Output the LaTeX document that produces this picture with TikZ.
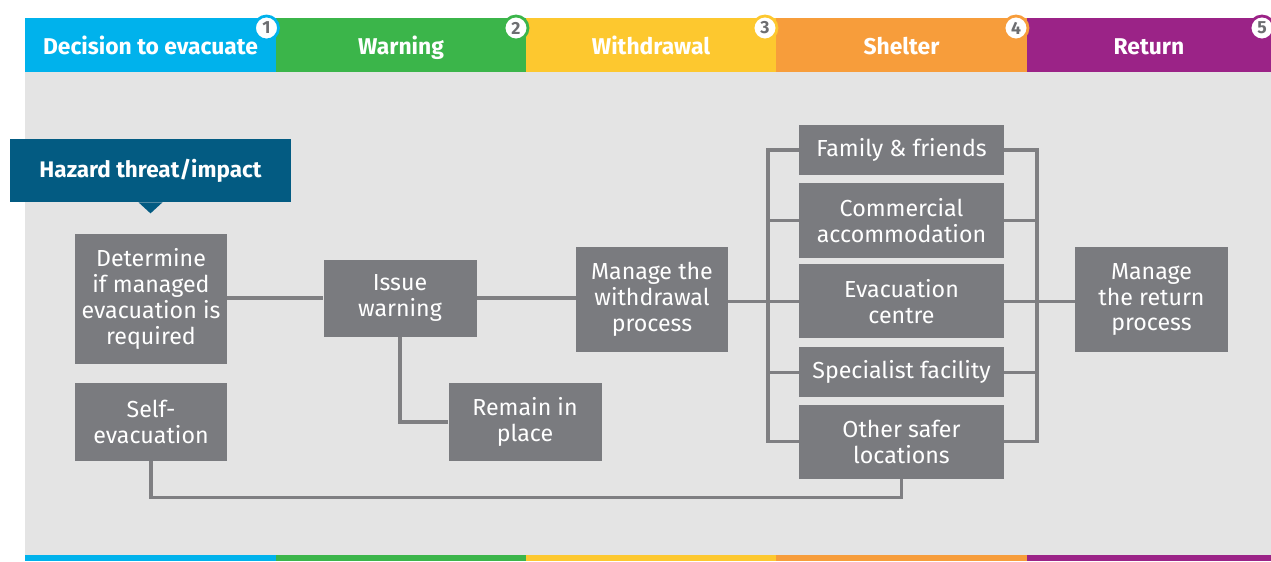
\documentclass[tikz,border=0pt]{standalone}
\usepackage{fontspec}
\setmainfont{Fira Sans}
\usetikzlibrary{positioning}
\definecolor{evblue}{HTML}{00B2EC}
\definecolor{evgreen}{HTML}{3BB54A}
\definecolor{evyellow}{HTML}{FDC82F}
\definecolor{evorange}{HTML}{F79D3B}
\definecolor{evpurple}{HTML}{9B2387}
\definecolor{panelgrey}{HTML}{E4E4E4}
\definecolor{boxgrey}{HTML}{7A7B7F}
\definecolor{linegrey}{HTML}{7F7F82}
\definecolor{hazardblue}{HTML}{035B82}
\definecolor{numgrey}{HTML}{6D6E71}
\tikzstyle{phase} = [
rectangle, minimum height=1.08cm, inner sep=0pt, text height=2.1ex, text depth=0.1ex,
text=white, font=\fontsize{13}{15}\selectfont\bfseries
]
\tikzstyle{stepnum} = [
circle, fill=white, line width=1.6pt, minimum size=0.48cm, inner sep=0pt,
text=numgrey, font=\fontsize{10}{11}\selectfont\bfseries
]
\tikzstyle{task} = [
rectangle, fill=boxgrey, text=white, align=center, inner sep=0pt,
minimum width=3.04cm, font=\fontsize{13.2}{14.7}\selectfont
]
\tikzstyle{shelter} = [task, minimum width=4.1cm]
\tikzstyle{link} = [draw=linegrey, line width=1.8pt]

\begin{document}
\begin{tikzpicture}
			\clip (0,0) rectangle (25.42,-11.22);
			\fill[panelgrey] (0.5,-1.44) rectangle (25.42,-11.1);

			% Fases
			\node (P_1) [phase, fill=evblue, minimum width=5.02cm] at (3.01,-0.9) {Decision to evacuate};
			\node (P_2) [phase, fill=evgreen, minimum width=5.0cm] at (8.02,-0.9) {Warning};
			\node (P_3) [phase, fill=evyellow, minimum width=5.0cm] at (13.02,-0.9) {Withdrawal};
			\node (P_4) [phase, fill=evorange, minimum width=5.02cm] at (18.03,-0.9) {Shelter};
			\node (P_5) [phase, fill=evpurple, minimum width=4.88cm] at (22.98,-0.9) {Return};

			% Numeros
			\node (N_1) [stepnum, draw=evblue] at (5.33,-0.56) {1};
			\node (N_2) [stepnum, draw=evgreen] at (10.32,-0.56) {2};
			\node (N_3) [stepnum, draw=evyellow] at (15.3,-0.56) {3};
			\node (N_4) [stepnum, draw=evorange] at (20.32,-0.56) {4};
			\node (N_5) [stepnum, draw=evpurple] at (25.24,-0.56) {5};

			% Faixa inferior
			\fill[evblue] (0.5,-11.1) rectangle (5.52,-11.22);
			\fill[evgreen] (5.52,-11.1) rectangle (10.52,-11.22);
			\fill[evyellow] (10.52,-11.1) rectangle (15.52,-11.22);
			\fill[evorange] (15.52,-11.1) rectangle (20.54,-11.22);
			\fill[evpurple] (20.54,-11.1) rectangle (25.42,-11.22);

			% Ameaca
			\node (hazard) [rectangle, fill=hazardblue, minimum width=5.62cm, minimum height=1.26cm, text=white, font=\fontsize{12.8}{15}\selectfont\bfseries] at (3.01,-3.41) {Hazard threat/impact};
			\fill[hazardblue] ([xshift=-0.24cm]hazard.south) -- ([xshift=0.24cm]hazard.south) -- ++(-0.24,-0.22) -- cycle;

			% Etapas
			\node (decide) [task, minimum height=2.6cm] at (3.02,-5.98) {Determine\\if managed\\evacuation is\\required};
			\node (self) [task, minimum height=1.56cm] at (3.02,-8.44) {Self-\\evacuation};
			\node (warn) [task, minimum width=3.06cm, minimum height=1.54cm] at (8.0,-5.96) {Issue\\warning};
			\node (remain) [task, minimum width=3.06cm, minimum height=1.56cm] at (10.5,-8.44) {Remain in\\place};
			\node (withdraw) [task, minimum height=2.1cm] at (13.04,-5.99) {Manage the\\withdrawal\\process};
			\node (return) [task, minimum width=3.06cm, minimum height=2.1cm] at (23.03,-5.99) {Manage\\the return\\process};

			% Abrigos
			\node (family) [shelter, minimum height=1.0cm] at (18.03,-3.0) {Family \& friends};
			\node (commercial) [shelter, minimum height=1.5cm, below=0.14cm of family] {Commercial\\accommodation};
			\node (centre) [shelter, minimum height=1.48cm, below=0.12cm of commercial] {Evacuation\\centre};
			\node (specialist) [shelter, minimum height=1.0cm, below=0.16cm of centre] {Specialist facility};
			\node (other) [shelter, minimum height=1.48cm, below=0.14cm of specialist] {Other safer\\locations};

			\coordinate (lbus) at (15.36,-6.0);
			\coordinate (rbus) at (20.74,-6.0);

			% Connections
			\draw [link] (decide.east |- warn) -- (warn.west);
			\draw [link] (warn) -- (withdraw.west |- warn);
			\draw [link] (warn.south) |- (remain.west);
			\draw [link] (self.south) -- ++(0,-0.72) -| (other.south);
			\draw [link] (withdraw.east |- centre) -- (centre.west);
			\draw [link] (centre.east) -- (return.west |- centre);

			% Barramentos
			\draw [link] (family.west) -| (lbus) |- (other.west);
			\draw [link] (commercial.west) -- (commercial.west -| lbus);
			\draw [link] (specialist.west) -- (specialist.west -| lbus);
			\draw [link] (family.east) -| (rbus) |- (other.east);
			\draw [link] (commercial.east) -- (commercial.east -| rbus);
			\draw [link] (specialist.east) -- (specialist.east -| rbus);

		\end{tikzpicture}
\end{document}
